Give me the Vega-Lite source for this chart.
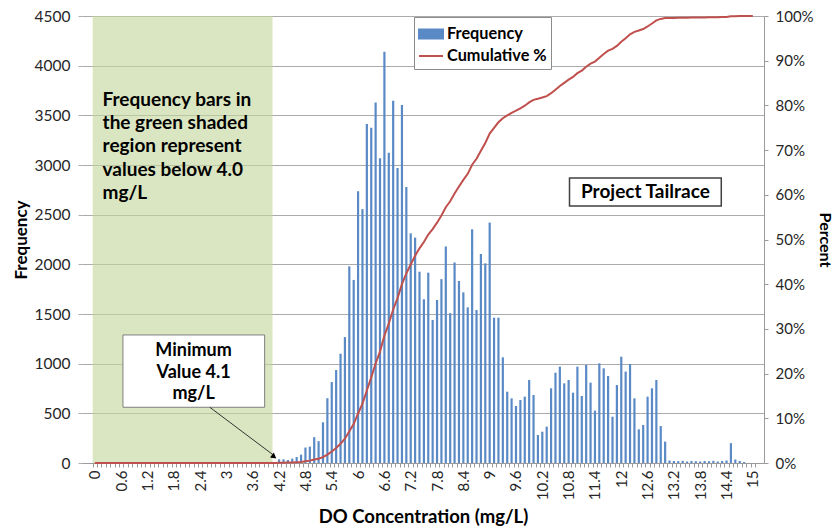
{
  "$schema": "https://vega.github.io/schema/vega-lite/v6.json",
  "width": 682,
  "height": 447,
  "autosize": "none",
  "padding": {"left": 82, "top": 16, "right": 72, "bottom": 68},
  "background": "white",
  "config": {
    "font": "Lato",
    "view": {"stroke": null},
    "axis": {"labelFont": "Lato", "titleFont": "Lato", "labelColor": "#262626", "titleColor": "#000000"}
  },
  "datasets": {
    "hist": [
      {"do": 0, "freq": 0, "cum": 0}, {"do": 0.1, "freq": 0, "cum": 0}, {"do": 0.2, "freq": 0, "cum": 0},
      {"do": 0.3, "freq": 0, "cum": 0}, {"do": 0.4, "freq": 0, "cum": 0}, {"do": 0.5, "freq": 0, "cum": 0},
      {"do": 0.6, "freq": 0, "cum": 0}, {"do": 0.7, "freq": 0, "cum": 0}, {"do": 0.8, "freq": 0, "cum": 0},
      {"do": 0.9, "freq": 0, "cum": 0}, {"do": 1, "freq": 0, "cum": 0}, {"do": 1.1, "freq": 0, "cum": 0},
      {"do": 1.2, "freq": 0, "cum": 0}, {"do": 1.3, "freq": 0, "cum": 0}, {"do": 1.4, "freq": 0, "cum": 0},
      {"do": 1.5, "freq": 0, "cum": 0}, {"do": 1.6, "freq": 0, "cum": 0}, {"do": 1.7, "freq": 0, "cum": 0},
      {"do": 1.8, "freq": 0, "cum": 0}, {"do": 1.9, "freq": 0, "cum": 0}, {"do": 2, "freq": 0, "cum": 0},
      {"do": 2.1, "freq": 0, "cum": 0}, {"do": 2.2, "freq": 0, "cum": 0}, {"do": 2.3, "freq": 0, "cum": 0},
      {"do": 2.4, "freq": 0, "cum": 0}, {"do": 2.5, "freq": 0, "cum": 0}, {"do": 2.6, "freq": 0, "cum": 0},
      {"do": 2.7, "freq": 0, "cum": 0}, {"do": 2.8, "freq": 0, "cum": 0}, {"do": 2.9, "freq": 0, "cum": 0},
      {"do": 3, "freq": 0, "cum": 0}, {"do": 3.1, "freq": 0, "cum": 0}, {"do": 3.2, "freq": 0, "cum": 0},
      {"do": 3.3, "freq": 0, "cum": 0}, {"do": 3.4, "freq": 0, "cum": 0}, {"do": 3.5, "freq": 0, "cum": 0},
      {"do": 3.6, "freq": 0, "cum": 0}, {"do": 3.7, "freq": 0, "cum": 0}, {"do": 3.8, "freq": 0, "cum": 0},
      {"do": 3.9, "freq": 0, "cum": 0}, {"do": 4, "freq": 0, "cum": 0}, {"do": 4.1, "freq": 2, "cum": 0},
      {"do": 4.2, "freq": 37, "cum": 0.0003}, {"do": 4.3, "freq": 37, "cum": 0.0007}, {"do": 4.4, "freq": 30, "cum": 0.0009},
      {"do": 4.5, "freq": 44, "cum": 0.0013}, {"do": 4.6, "freq": 60, "cum": 0.0018}, {"do": 4.7, "freq": 84, "cum": 0.0025},
      {"do": 4.8, "freq": 156, "cum": 0.0039}, {"do": 4.9, "freq": 165, "cum": 0.0053}, {"do": 5, "freq": 260, "cum": 0.0076},
      {"do": 5.1, "freq": 220, "cum": 0.0094}, {"do": 5.2, "freq": 410, "cum": 0.013}, {"do": 5.3, "freq": 652, "cum": 0.0186},
      {"do": 5.4, "freq": 815, "cum": 0.0256}, {"do": 5.5, "freq": 936, "cum": 0.0337}, {"do": 5.6, "freq": 1100, "cum": 0.0432},
      {"do": 5.7, "freq": 1268, "cum": 0.0542}, {"do": 5.8, "freq": 1980, "cum": 0.0712}, {"do": 5.9, "freq": 1843, "cum": 0.0871},
      {"do": 6, "freq": 2736, "cum": 0.1108}, {"do": 6.1, "freq": 2556, "cum": 0.1328}, {"do": 6.2, "freq": 3413, "cum": 0.1623},
      {"do": 6.3, "freq": 3376, "cum": 0.1914}, {"do": 6.4, "freq": 3628, "cum": 0.2227}, {"do": 6.5, "freq": 3067, "cum": 0.2492},
      {"do": 6.6, "freq": 4141, "cum": 0.2849}, {"do": 6.7, "freq": 3124, "cum": 0.3119}, {"do": 6.8, "freq": 3648, "cum": 0.3434},
      {"do": 6.9, "freq": 2970, "cum": 0.369}, {"do": 7, "freq": 3604, "cum": 0.4001}, {"do": 7.1, "freq": 2779, "cum": 0.4241},
      {"do": 7.2, "freq": 2312, "cum": 0.444}, {"do": 7.3, "freq": 2269, "cum": 0.4636}, {"do": 7.4, "freq": 1926, "cum": 0.4802},
      {"do": 7.5, "freq": 1648, "cum": 0.4944}, {"do": 7.6, "freq": 1916, "cum": 0.511}, {"do": 7.7, "freq": 1440, "cum": 0.5234},
      {"do": 7.8, "freq": 1641, "cum": 0.5376}, {"do": 7.9, "freq": 1851, "cum": 0.5535}, {"do": 8, "freq": 2180, "cum": 0.5723},
      {"do": 8.1, "freq": 1508, "cum": 0.5854}, {"do": 8.2, "freq": 2019, "cum": 0.6028}, {"do": 8.3, "freq": 1832, "cum": 0.6186},
      {"do": 8.4, "freq": 1718, "cum": 0.6334}, {"do": 8.5, "freq": 1567, "cum": 0.6469}, {"do": 8.6, "freq": 2353, "cum": 0.6672},
      {"do": 8.7, "freq": 1540, "cum": 0.6805}, {"do": 8.8, "freq": 2104, "cum": 0.6987}, {"do": 8.9, "freq": 2010, "cum": 0.716},
      {"do": 9, "freq": 2420, "cum": 0.7369}, {"do": 9.1, "freq": 1463, "cum": 0.7495}, {"do": 9.2, "freq": 1463, "cum": 0.7622},
      {"do": 9.3, "freq": 1064, "cum": 0.7713}, {"do": 9.4, "freq": 718, "cum": 0.7775}, {"do": 9.5, "freq": 651, "cum": 0.7832},
      {"do": 9.6, "freq": 574, "cum": 0.7881}, {"do": 9.7, "freq": 634, "cum": 0.7936}, {"do": 9.8, "freq": 668, "cum": 0.7993},
      {"do": 9.9, "freq": 836, "cum": 0.8066}, {"do": 10, "freq": 685, "cum": 0.8125}, {"do": 10.1, "freq": 282, "cum": 0.8149},
      {"do": 10.2, "freq": 315, "cum": 0.8176}, {"do": 10.3, "freq": 366, "cum": 0.8208}, {"do": 10.4, "freq": 752, "cum": 0.8273},
      {"do": 10.5, "freq": 909, "cum": 0.8351}, {"do": 10.6, "freq": 970, "cum": 0.8435}, {"do": 10.7, "freq": 802, "cum": 0.8504},
      {"do": 10.8, "freq": 836, "cum": 0.8576}, {"do": 10.9, "freq": 708, "cum": 0.8637}, {"do": 11, "freq": 970, "cum": 0.8721},
      {"do": 11.1, "freq": 675, "cum": 0.8779}, {"do": 11.2, "freq": 987, "cum": 0.8864}, {"do": 11.3, "freq": 809, "cum": 0.8934},
      {"do": 11.4, "freq": 527, "cum": 0.898}, {"do": 11.5, "freq": 1003, "cum": 0.9066}, {"do": 11.6, "freq": 953, "cum": 0.9149},
      {"do": 11.7, "freq": 876, "cum": 0.9224}, {"do": 11.8, "freq": 466, "cum": 0.9264}, {"do": 11.9, "freq": 785, "cum": 0.9332},
      {"do": 12, "freq": 1070, "cum": 0.9424}, {"do": 12.1, "freq": 920, "cum": 0.9504}, {"do": 12.2, "freq": 997, "cum": 0.959},
      {"do": 12.3, "freq": 651, "cum": 0.9646}, {"do": 12.4, "freq": 339, "cum": 0.9675}, {"do": 12.5, "freq": 383, "cum": 0.9708},
      {"do": 12.6, "freq": 668, "cum": 0.9766}, {"do": 12.7, "freq": 752, "cum": 0.9831}, {"do": 12.8, "freq": 836, "cum": 0.9903},
      {"do": 12.9, "freq": 372, "cum": 0.9935}, {"do": 13, "freq": 215, "cum": 0.9954}, {"do": 13.1, "freq": 25, "cum": 0.9956},
      {"do": 13.2, "freq": 20, "cum": 0.9957}, {"do": 13.3, "freq": 18, "cum": 0.9959}, {"do": 13.4, "freq": 22, "cum": 0.9961},
      {"do": 13.5, "freq": 15, "cum": 0.9962}, {"do": 13.6, "freq": 20, "cum": 0.9964}, {"do": 13.7, "freq": 18, "cum": 0.9965},
      {"do": 13.8, "freq": 15, "cum": 0.9967}, {"do": 13.9, "freq": 20, "cum": 0.9969}, {"do": 14, "freq": 18, "cum": 0.997},
      {"do": 14.1, "freq": 22, "cum": 0.9972}, {"do": 14.2, "freq": 15, "cum": 0.9973}, {"do": 14.3, "freq": 20, "cum": 0.9975},
      {"do": 14.4, "freq": 25, "cum": 0.9977}, {"do": 14.5, "freq": 200, "cum": 0.9994}, {"do": 14.6, "freq": 35, "cum": 0.9997},
      {"do": 14.7, "freq": 20, "cum": 0.9999}, {"do": 14.8, "freq": 10, "cum": 1}, {"do": 14.9, "freq": 0, "cum": 1},
      {"do": 15, "freq": 0, "cum": 1}
    ]
  },
  "layer": [
    {
      "layer": [
        {
          "description": "Green band marking concentrations below 4.0 mg/L",
          "data": {"values": [{}]},
          "mark": {"type": "rect", "fill": "#C3D69B", "opacity": 0.62},
          "encoding": {
            "x": {"datum": -0.05, "type": "quantitative", "scale": {"domain": [-0.18, 15.14], "nice": false, "zero": false}},
            "x2": {"datum": 4.05},
            "y": {"datum": 0, "type": "quantitative", "scale": {"domain": [0, 4500], "nice": false, "zero": false}},
            "y2": {"datum": 4500}
          }
        },
        {
          "data": {"name": "hist"},
          "mark": {"type": "bar", "width": 2.2},
          "encoding": {
            "x": {
              "field": "do", "type": "quantitative",
              "scale": {"domain": [-0.18, 15.14], "nice": false, "zero": false},
              "axis": {
                "title": "DO Concentration (mg/L)",
                "values": [0,0.1,0.2,0.3,0.4,0.5,0.6,0.7,0.8,0.9,1,1.1,1.2,1.3,1.4,1.5,1.6,1.7,1.8,1.9,2,2.1,2.2,2.3,2.4,2.5,2.6,2.7,2.8,2.9,3,3.1,3.2,3.3,3.4,3.5,3.6,3.7,3.8,3.9,4,4.1,4.2,4.3,4.4,4.5,4.6,4.7,4.8,4.9,5,5.1,5.2,5.3,5.4,5.5,5.6,5.7,5.8,5.9,6,6.1,6.2,6.3,6.4,6.5,6.6,6.7,6.8,6.9,7,7.1,7.2,7.3,7.4,7.5,7.6,7.7,7.8,7.9,8,8.1,8.2,8.3,8.4,8.5,8.6,8.7,8.8,8.9,9,9.1,9.2,9.3,9.4,9.5,9.6,9.7,9.8,9.9,10,10.1,10.2,10.3,10.4,10.5,10.6,10.7,10.8,10.9,11,11.1,11.2,11.3,11.4,11.5,11.6,11.7,11.8,11.9,12,12.1,12.2,12.3,12.4,12.5,12.6,12.7,12.8,12.9,13,13.1,13.2,13.3,13.4,13.5,13.6,13.7,13.8,13.9,14,14.1,14.2,14.3,14.4,14.5,14.6,14.7,14.8,14.9,15,15.1],
                "tickCount": 200,
                "labelExpr": "(round(datum.value * 10) % 6 === 0 && datum.value < 15.05) ? format(datum.value, '~g') : ''",
                "labelAngle": -90,
                "labelFontSize": 15,
                "labelOverlap": false,
                "labelBound": false,
                "labelFlush": false,
                "labelPadding": 3,
                "tickOffset": -2.23,
                "labelOffset": 2.23,
                "tickSize": 4,
                "tickColor": "#9A9A9A",
                "domainColor": "#9A9A9A",
                "grid": false,
                "titleFontSize": 18.5,
                "titleFontWeight": "bold",
                "titlePadding": 8
              }
            },
            "y": {
              "field": "freq", "type": "quantitative",
              "scale": {"domain": [0, 4500], "nice": false, "zero": false},
              "axis": {
                "title": "Frequency",
                "values": [0, 500, 1000, 1500, 2000, 2500, 3000, 3500, 4000, 4500],
                "tickCount": 20,
                "format": "d",
                "grid": true,
                "gridColor": "#ABABAB",
                "domain": false,
                "tickSize": 4,
                "tickColor": "#ABABAB",
                "labelPadding": 8,
                "labelFontSize": 15.5,
                "titleFontSize": 17,
                "titleFontWeight": "bold",
                "titlePadding": 4
              }
            },
            "color": {
              "datum": "Frequency", "type": "nominal",
              "scale": {"domain": ["Frequency", "Cumulative %"], "range": ["#5A8AC6", "#C0504D"]},
              "legend": {
                "orient": "none",
                "legendX": 332,
                "legendY": 1,
                "title": null,
                "fillColor": "white",
                "strokeColor": "#8C8C8C",
                "padding": 4,
                "rowPadding": 0,
                "symbolSize": 576,
                "labelOffset": 3,
                "labelFont": "Lato",
                "labelFontSize": 16.3,
                "labelFontWeight": "bold",
                "labelColor": "#000000",
                "encode": {
                  "symbols": {
                    "update": {
                      "shape": {"signal": "datum.value === 'Frequency' ? 'M-1,-0.375H1V0.375H-1Z' : 'stroke'"},
                      "fill": {"signal": "datum.value === 'Frequency' ? '#4F81BD' : 'transparent'"},
                      "stroke": {"signal": "datum.value === 'Frequency' ? 'transparent' : '#C0504D'"},
                      "strokeWidth": {"value": 2},
                      "opacity": {"value": 1}
                    }
                  }
                }
              }
            }
          }
        },
        {
          "description": "Note on the green band",
          "data": {"values": [{}]},
          "mark": {
            "type": "text",
            "text": ["Frequency bars in", "the green shaded", "region represent", "values below 4.0", "mg/L"],
            "align": "left", "baseline": "middle", "lineHeight": 23.3,
            "font": "Lato", "fontSize": 19, "fontWeight": "bold", "color": "#000000"
          },
          "encoding": {
            "x": {"datum": 0.175, "type": "quantitative", "scale": {"domain": [-0.18, 15.14], "nice": false, "zero": false}},
            "y": {"datum": 3656, "type": "quantitative", "scale": {"domain": [0, 4500], "nice": false, "zero": false}}
          }
        },
        {
          "description": "Callout box for the minimum value",
          "data": {"values": [{}]},
          "mark": {"type": "rect", "fill": "white", "stroke": "#7F7F7F", "strokeWidth": 1},
          "encoding": {
            "x": {"datum": 0.64, "type": "quantitative", "scale": {"domain": [-0.18, 15.14], "nice": false, "zero": false}},
            "x2": {"datum": 3.87},
            "y": {"datum": 561, "type": "quantitative", "scale": {"domain": [0, 4500], "nice": false, "zero": false}},
            "y2": {"datum": 1289}
          }
        },
        {
          "data": {"values": [{}]},
          "mark": {
            "type": "text",
            "text": ["Minimum", "Value 4.1", "mg/L"],
            "align": "center", "baseline": "middle", "lineHeight": 21.5,
            "font": "Lato", "fontSize": 18, "fontWeight": "bold", "color": "#000000"
          },
          "encoding": {
            "x": {"datum": 2.25, "type": "quantitative", "scale": {"domain": [-0.18, 15.14], "nice": false, "zero": false}},
            "y": {"datum": 1125, "type": "quantitative", "scale": {"domain": [0, 4500], "nice": false, "zero": false}}
          }
        },
        {
          "description": "Arrow from the callout to the 4.1 mg/L bin",
          "data": {"values": [{}]},
          "mark": {"type": "rule", "stroke": "#333333", "strokeWidth": 1},
          "encoding": {
            "x": {"datum": 2.62, "type": "quantitative", "scale": {"domain": [-0.18, 15.14], "nice": false, "zero": false}},
            "x2": {"datum": 4.1},
            "y": {"datum": 561, "type": "quantitative", "scale": {"domain": [0, 4500], "nice": false, "zero": false}},
            "y2": {"datum": 70}
          }
        },
        {
          "data": {"values": [{}]},
          "mark": {"type": "point", "shape": "triangle-up", "angle": 127, "size": 40, "filled": true, "color": "#000000", "opacity": 1},
          "encoding": {
            "x": {"datum": 4.085, "type": "quantitative", "scale": {"domain": [-0.18, 15.14], "nice": false, "zero": false}},
            "y": {"datum": 63, "type": "quantitative", "scale": {"domain": [0, 4500], "nice": false, "zero": false}}
          }
        },
        {
          "description": "Site label",
          "data": {"values": [{}]},
          "mark": {"type": "rect", "fill": "white", "stroke": "#404040", "strokeWidth": 1.5},
          "encoding": {
            "x": {"datum": 10.82, "type": "quantitative", "scale": {"domain": [-0.18, 15.14], "nice": false, "zero": false}},
            "x2": {"datum": 14.28},
            "y": {"datum": 2588, "type": "quantitative", "scale": {"domain": [0, 4500], "nice": false, "zero": false}},
            "y2": {"datum": 2870}
          }
        },
        {
          "data": {"values": [{}]},
          "mark": {
            "type": "text", "text": "Project Tailrace",
            "align": "center", "baseline": "middle",
            "font": "Lato", "fontSize": 19, "fontWeight": "bold", "color": "#000000"
          },
          "encoding": {
            "x": {"datum": 12.55, "type": "quantitative", "scale": {"domain": [-0.18, 15.14], "nice": false, "zero": false}},
            "y": {"datum": 2729, "type": "quantitative", "scale": {"domain": [0, 4500], "nice": false, "zero": false}}
          }
        }
      ]
    },
    {
      "data": {"name": "hist"},
      "mark": {"type": "line", "strokeWidth": 2},
      "encoding": {
        "x": {
          "field": "do", "type": "quantitative",
          "scale": {"domain": [-0.18, 15.14], "nice": false, "zero": false},
          "axis": {
            "title": "DO Concentration (mg/L)",
            "values": [0,0.1,0.2,0.3,0.4,0.5,0.6,0.7,0.8,0.9,1,1.1,1.2,1.3,1.4,1.5,1.6,1.7,1.8,1.9,2,2.1,2.2,2.3,2.4,2.5,2.6,2.7,2.8,2.9,3,3.1,3.2,3.3,3.4,3.5,3.6,3.7,3.8,3.9,4,4.1,4.2,4.3,4.4,4.5,4.6,4.7,4.8,4.9,5,5.1,5.2,5.3,5.4,5.5,5.6,5.7,5.8,5.9,6,6.1,6.2,6.3,6.4,6.5,6.6,6.7,6.8,6.9,7,7.1,7.2,7.3,7.4,7.5,7.6,7.7,7.8,7.9,8,8.1,8.2,8.3,8.4,8.5,8.6,8.7,8.8,8.9,9,9.1,9.2,9.3,9.4,9.5,9.6,9.7,9.8,9.9,10,10.1,10.2,10.3,10.4,10.5,10.6,10.7,10.8,10.9,11,11.1,11.2,11.3,11.4,11.5,11.6,11.7,11.8,11.9,12,12.1,12.2,12.3,12.4,12.5,12.6,12.7,12.8,12.9,13,13.1,13.2,13.3,13.4,13.5,13.6,13.7,13.8,13.9,14,14.1,14.2,14.3,14.4,14.5,14.6,14.7,14.8,14.9,15,15.1],
            "tickCount": 200,
            "labelExpr": "(round(datum.value * 10) % 6 === 0 && datum.value < 15.05) ? format(datum.value, '~g') : ''",
            "labelAngle": -90,
            "labelFontSize": 15,
            "labelOverlap": false,
            "labelBound": false,
            "labelFlush": false,
            "labelPadding": 3,
            "tickOffset": -2.23,
            "labelOffset": 2.23,
            "tickSize": 4,
            "tickColor": "#9A9A9A",
            "domainColor": "#9A9A9A",
            "grid": false,
            "titleFontSize": 18.5,
            "titleFontWeight": "bold",
            "titlePadding": 8
          }
        },
        "y": {
          "field": "cum", "type": "quantitative",
          "scale": {"domain": [0, 1], "nice": false, "zero": false},
          "axis": {
            "orient": "right",
            "title": "Percent",
            "values": [0, 0.1, 0.2, 0.3, 0.4, 0.5, 0.6, 0.7, 0.8, 0.9, 1],
            "tickCount": 20,
            "format": ".0%",
            "grid": false,
            "domain": true,
            "domainColor": "#9A9A9A",
            "tickSize": 4,
            "tickColor": "#9A9A9A",
            "labelPadding": 7,
            "labelFontSize": 15,
            "titleFontSize": 16,
            "titleFontWeight": "bold",
            "titlePadding": 3
          }
        },
        "color": {"datum": "Cumulative %", "type": "nominal"}
      }
    }
  ],
  "resolve": {"scale": {"y": "independent"}}
}
